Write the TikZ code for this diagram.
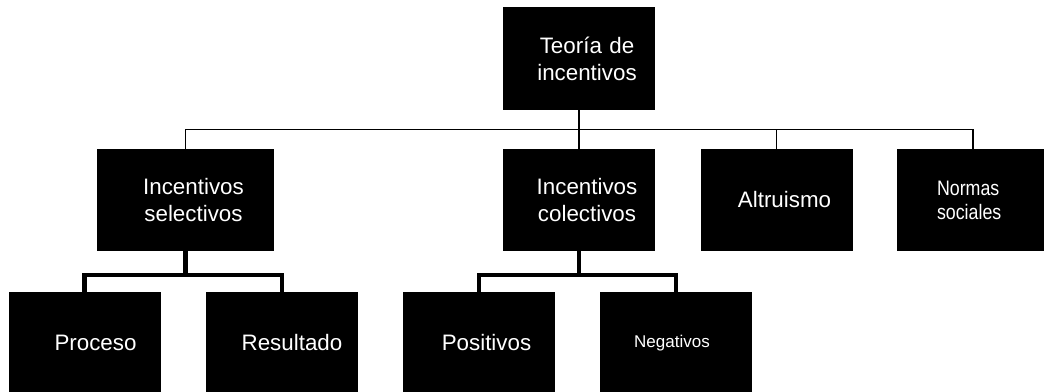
\documentclass[tikz,border=0pt]{standalone}
\usepackage{fontspec}
\setmainfont{Liberation Sans}
\newfontfamily\narrowfont[FakeStretch=0.85]{Liberation Sans}
\tikzset{
  box/.style={fill=black,text=white,minimum width=3.8cm,minimum height=2.55cm,
    text width=3.8cm,align=center,inner sep=0pt,
    font=\fontsize{15.9}{19.2}\selectfont,textshift},
  wide/.style={box,minimum width=4.425cm,text width=4.425cm},
  textshift/.style={execute at begin node={\leftskip=#1 plus 1fil
    \rightskip=0pt plus 1fil\parfillskip=0pt}},
  textshift/.default=4mm,
  small/.style={font=\fontsize{12.1}{14.5}\selectfont},
  narrow/.style={font=\narrowfont\fontsize{14.9}{17.1}\selectfont},
  link/.style={draw=black,line width=1pt},
  heavy/.style={draw=black,line width=2.85pt}
}

\begin{document}
\begin{tikzpicture}
  \useasboundingbox (0,0) rectangle (26.1,9.775);
  % raiz
  \node[box,minimum height=2.575cm] (top) at (14.475,8.3125) {Teoría de\\incentivos};
  % segundo nivel
  \node[wide] (sel) at (4.6375,4.775) {Incentivos\\selectivos};
  \node[box] (col) at (14.475,4.775) {Incentivos\\colectivos};
  \node[box] (alt) at (19.4125,4.775) {Altruismo};
  \node[box,narrow,execute at begin node={\leftskip=1cm\rightskip=0pt plus 1fil}]
    (norm) at (24.325,4.775) {Normas\\sociales};
  % tercer nivel
  \node[box,textshift=5.5mm] (proc) at (2.1125,1.2) {Proceso};
  \node[box,textshift=5mm] (res) at (7.05,1.2) {Resultado};
  \node[box] (pos) at (11.9625,1.2) {Positivos};
  \node[box,small,textshift=-2mm] (neg) at (16.9,1.2) {Negativos};
  \foreach \c in {sel,col,alt,norm}
    \draw[link] (top.south) -- ++(0,-0.475) -| (\c.north);
  \foreach \c in {proc,res}
    \draw[heavy] (sel.south) -- ++(0,-0.6) -| (\c.north);
  \foreach \c in {pos,neg}
    \draw[heavy] (col.south) -- ++(0,-0.6) -| (\c.north);
\end{tikzpicture}
\end{document}
